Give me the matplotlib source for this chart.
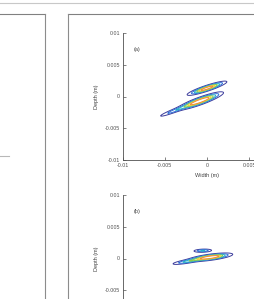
import numpy as np
import matplotlib
matplotlib.use("Agg")
import matplotlib.pyplot as plt
from matplotlib.lines import Line2D

plt.rcParams['font.family'] = ['Liberation Sans', 'DejaVu Sans']

# blob parameters: (x0, y0, amplitude, sigma_long, sigma_short, angle_deg)
blobs_a = [
    (-0.0008, -0.0007, 1.00, 0.00125, 0.00024, 26),
    (-0.0036, -0.0021, 0.24, 0.00120, 0.00015, 27),
    (0.0000, 0.0013, 0.85, 0.00108, 0.00019, 24),
]
blobs_b = [
    (0.0004, 0.0002, 1.00, 0.00110, 0.00020, 10),
    (-0.0021, -0.0004, 0.35, 0.00100, 0.00015, 13),
    (-0.0005, 0.00123, 0.30, 0.00055, 0.00013, 3),
]
levels = [0.05, 0.15, 0.27, 0.40, 0.53, 0.66]
level_colors = ['#3c3c9c', '#2a6fd8', '#28b2c8', '#8ccb4e', '#f0d03c', '#f08a3c']
ticks = [-0.01, -0.005, 0, 0.005, 0.01]
tick_labels = ['-0.01', '-0.005', '0', '0.005', '0.01']
panel_tags = ['(a)', '(b)']

W, H = 255, 299
fig = plt.figure(figsize=(W / 100, H / 100), dpi=100)


def px(x, y):
    return x / W, 1 - y / H


# frame lines of the surrounding page layout
def hline(y, x0, x1, c, lw):
    (a, b), (c2, _) = px(x0, y), px(x1, y)
    fig.add_artist(Line2D([a, c2], [b, b], color=c, lw=lw, transform=fig.transFigure))


def vline(x, y0, y1, c, lw):
    (a, b), (_, d) = px(x, y0), px(x, y1)
    fig.add_artist(Line2D([a, a], [b, d], color=c, lw=lw, transform=fig.transFigure))


hline(2.7, 0, 255, '#c8c8c8', 0.8)
hline(14, 0, 45, '#808080', 0.8)
hline(14, 68, 255, '#808080', 0.8)
vline(45, 14, 299, '#8c8c8c', 0.8)
vline(68, 14, 299, '#8c8c8c', 0.8)
hline(156, 0, 9, '#b8b8b8', 0.8)

gx = np.linspace(-0.01, 0.01, 500)
gy = np.linspace(-0.01, 0.01, 500)
X, Y = np.meshgrid(gx, gy)


def field(blobs):
    Z = np.zeros_like(X)
    for x0, y0, amp, sl, ss, ang in blobs:
        t = np.deg2rad(ang)
        u = (X - x0) * np.cos(t) + (Y - y0) * np.sin(t)
        v = -(X - x0) * np.sin(t) + (Y - y0) * np.cos(t)
        Z += amp * np.exp(-0.5 * ((u / sl) ** 2 + (v / ss) ** 2))
    return Z


ax_w = 168.6 / W
ax_h = 127 / H
positions = [(122.7 / W, 1 - 160 / H), (122.7 / W, 1 - 322 / H)]

for blobs, pos, tag in zip([blobs_a, blobs_b], positions, panel_tags):
    ax = fig.add_axes([pos[0], pos[1], ax_w, ax_h])
    ax.contour(X, Y, field(blobs), levels=levels, colors=level_colors, linewidths=0.7)
    ax.set_xlim(-0.01, 0.01)
    ax.set_ylim(-0.01, 0.01)
    ax.set_xticks(ticks)
    ax.set_xticklabels(tick_labels)
    ax.set_yticks(ticks)
    ax.set_yticklabels(tick_labels)
    for s in ['top', 'right']:
        ax.spines[s].set_visible(False)
    for s in ['left', 'bottom']:
        ax.spines[s].set_color('#505050')
        ax.spines[s].set_linewidth(0.6)
    ax.tick_params(direction='in', length=2, width=0.5, colors='#505050',
                   labelsize=3.8, pad=2)
    ax.set_ylabel('Depth (m)', fontsize=4, color='#404040')
    ax.yaxis.set_label_coords(-0.14, 0.5)
    ax.set_xlabel('Width (m)', fontsize=4, color='#404040')
    ax.xaxis.set_label_coords(0.5, -0.1)
    ax.text(0.085, 0.874, tag, transform=ax.transAxes, fontsize=4,
            color='#404040', ha='center', va='center')

fig.savefig('out.png', dpi=100)
